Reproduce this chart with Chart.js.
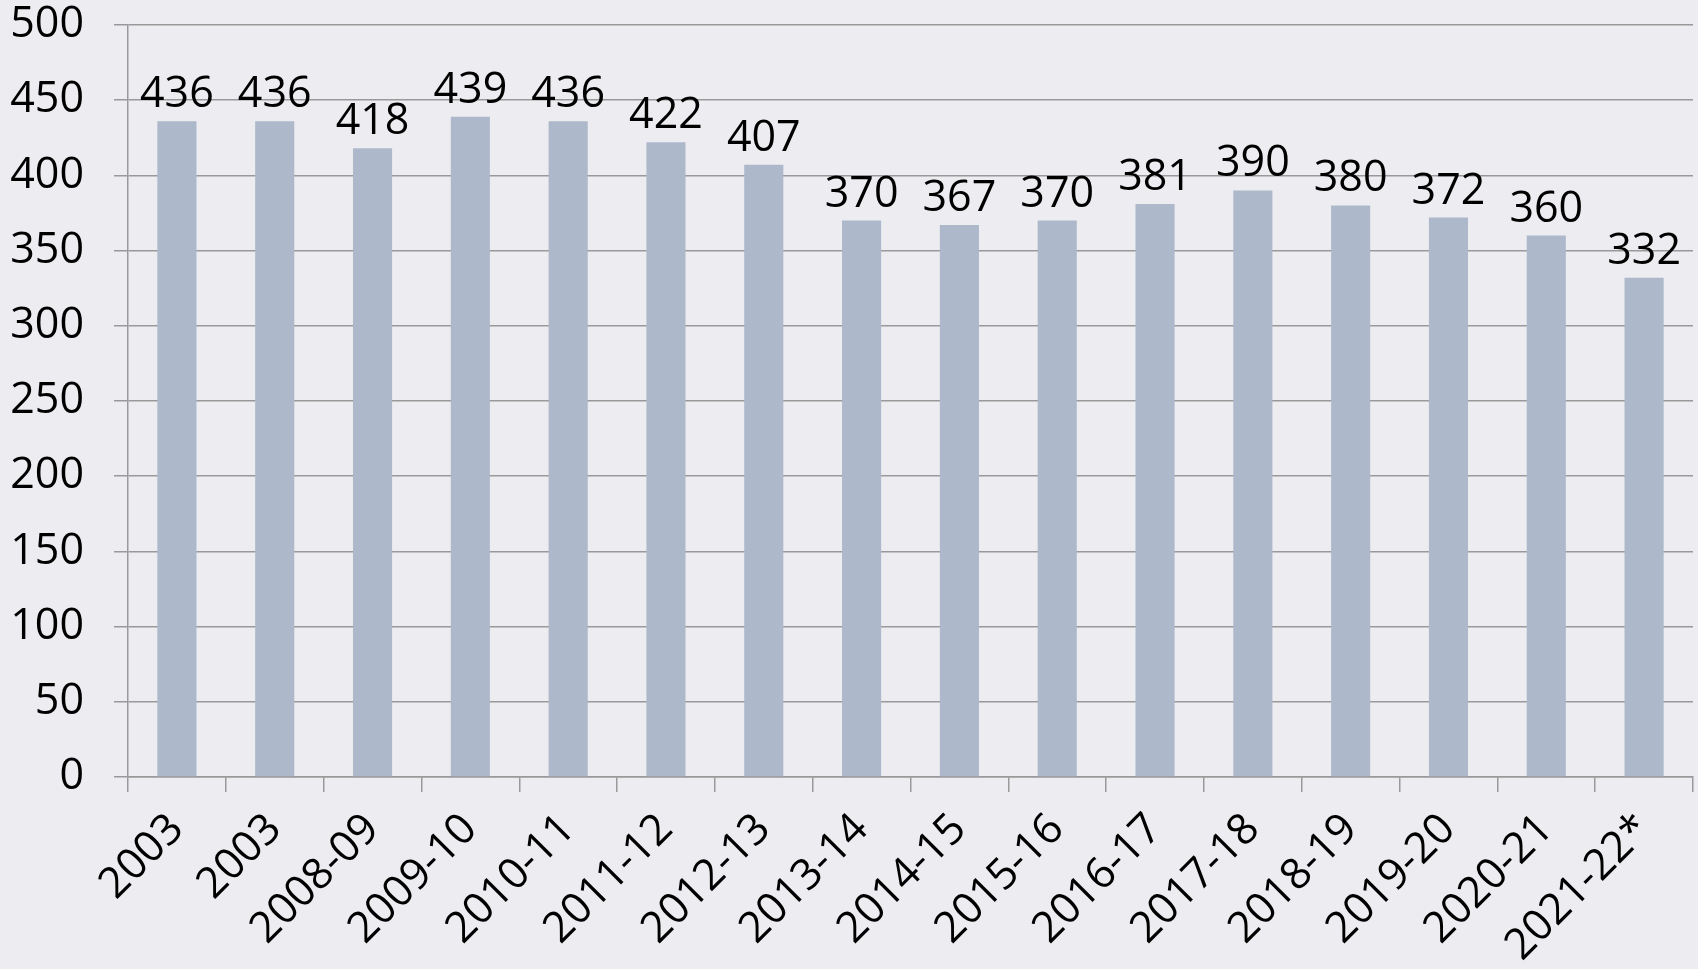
<!DOCTYPE html>
<html>
<head>
<meta charset="utf-8">
<script src="https://cdn.jsdelivr.net/npm/chart.js@4"></script>
<style>
    html, body { margin: 0; padding: 0; background: #ededf1; }
    #wrap { width: 1698px; height: 969px; position: relative; }
</style>
</head>
<body>
<div id="wrap"><canvas id="chart"></canvas></div>
<script>
// data
const years = [
    "2003", "2003", "2008-09", "2009-10", "2010-11", "2011-12", "2012-13", "2013-14",
    "2014-15", "2015-16", "2016-17", "2017-18", "2018-19", "2019-20", "2020-21", "2021-22*",
];
const counts = [436, 436, 418, 439, 436, 422, 407, 370, 367, 370, 381, 390, 380, 372, 360, 332];
const yTicks = [0, 50, 100, 150, 200, 250, 300, 350, 400, 450, 500];

const font = { family: "'Open Sans', sans-serif", size: 43 };

// draw values above the bars
const valueLabels = {
    id: "valueLabels",
    afterDatasetsDraw(chart) {
        const ctx = chart.ctx;
        const meta = chart.getDatasetMeta(0);
        ctx.save();
        ctx.font = font.size + "px " + font.family;
        ctx.fillStyle = "#000";
        ctx.textAlign = "center";
        ctx.textBaseline = "alphabetic";
        meta.data.forEach(function (bar, i) {
            ctx.fillText(String(counts[i]), bar.x, bar.y - 14);
        });
        ctx.restore();
    },
};

new Chart(document.getElementById("chart"), {
    type: "bar",
    data: {
        labels: years,
        datasets: [{
            data: counts,
            backgroundColor: "#adb9cb",
            barPercentage: 0.4,
            categoryPercentage: 1,
        }],
    },
    options: {
        responsive: true,
        maintainAspectRatio: false,
        animation: false,
        layout: { padding: { top: 25, right: 5 } },
        plugins: { legend: { display: false }, tooltip: { enabled: false } },
        scales: {
            x: {
                grid: { drawOnChartArea: false, drawTicks: true, tickLength: 15, color: "#999", lineWidth: 1.5 },
                border: { color: "#999", width: 1.5 },
                ticks: { color: "#000", font: font, maxRotation: 45, minRotation: 45, autoSkip: false, padding: 12 },
                afterFit(scale) { scale.height = 192; },
            },
            y: {
                min: 0,
                max: 500,
                afterBuildTicks(scale) { scale.ticks = yTicks.map((v) => ({ value: v })); },
                grid: { color: "#999", lineWidth: 1.5, tickLength: 14 },
                border: { color: "#999", width: 1.5 },
                ticks: { color: "#000", font: font, padding: 30 },
                afterFit(scale) {
                    scale.width = 128;
                    scale.paddingTop = 0;
                    scale.paddingBottom = 0;
                },
            },
        },
    },
    plugins: [valueLabels],
});
</script>
</body>
</html>
